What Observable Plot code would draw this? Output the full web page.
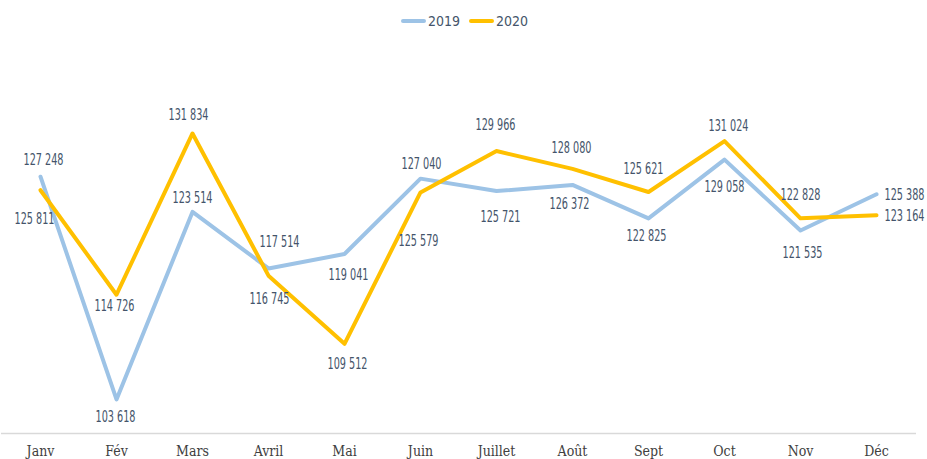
<!DOCTYPE html>
<html><head><meta charset="utf-8">
<script src="https://cdn.jsdelivr.net/npm/d3@7"></script>
<script src="https://cdn.jsdelivr.net/npm/@observablehq/plot@0.6"></script>
<style>
body{margin:0;background:#fff;overflow:hidden;}
#wrap{position:relative;width:927px;height:459px;}
#src{position:absolute;left:10px;top:-12px;font:13px "DejaVu Sans Condensed",sans-serif;color:#333;}
#legend{position:absolute;top:13px;left:401px;font:14px "DejaVu Sans Condensed",sans-serif;color:#44546a;display:flex;align-items:center;}
#legend span.sw{display:inline-block;width:25px;height:4px;border-radius:2px;margin-right:2px;}
#legend span.lb{margin-right:9px;}
</style></head>
<body><div id="wrap"><div id="src">Sources : ESA</div>
<div id="legend"><span class="sw" style="background:#9dc3e6"></span><span class="lb">2019</span><span class="sw" style="background:#ffc000"></span><span class="lb">2020</span></div>
<div id="chart"></div></div>
<script>
const months = ["Janv","Fév","Mars","Avril","Mai","Juin","Juillet","Août","Sept","Oct","Nov","Déc"];
const values2019 = [127248,103618,123514,117514,119041,127040,125721,126372,122825,129058,121535,125388];
const values2020 = [125811,114726,131834,116745,109512,125579,129966,128080,125621,131024,122828,123164];
// label offsets (style only)
const off2019 = [[3,-17],[-1,18],[0,-14],[11,-26],[4,21],[1,-14],[4,26],[-3,19],[-2,18],[0,28],[2,23],[8,1]];
const off2020 = [[-6,29],[-2,11],[-4,-18],[1,24],[3,20],[-2,49],[-1,-26],[-1,-21],[-5,-23],[4,-15],[0,-23],[8,1]];

const fmt = v => d3.format(",")(v).replace(/,/g, " ");
const rows = (vals, off, s) => months.map((m,i)=>({month:m, value:vals[i], dx:off[i][0], dy:off[i][1], anchor: i===11 ? "start" : "middle", s}));
const d19 = rows(values2019, off2019, "2019");
const d20 = rows(values2020, off2020, "2020");
const labelFont = "DejaVu Sans Condensed, sans-serif";

const textMarks = d => d.map(r => Plot.text([r], {x:"month", y:"value", text: r=>fmt(r.value), dx:r.dx, dy:r.dy, textAnchor:r.anchor, fill:"#44546a", fontSize:15, fontFamily:labelFont}));

const chart = Plot.plot({
  width: 927, height: 459,
  marginLeft: 39, marginRight: 51, marginTop: 56, marginBottom: 26,
  x: {type:"point", domain: months, padding: 0, label: null, tickSize: 0, tickPadding: 13},
  y: {domain: [100000, 140000], axis: null},
  style: {fontFamily: "DejaVu Serif Condensed, serif", fontSize: "14px", color: "#404040", background: "#fff"},
  marks: [
    Plot.ruleY([100000], {stroke:"#d9d9d9", strokeWidth:1.5, insetLeft:-38, insetRight:-40}),
    Plot.line(d19, {x:"month", y:"value", stroke:"#9dc3e6", strokeWidth:4, strokeLinejoin:"round"}),
    Plot.line(d20, {x:"month", y:"value", stroke:"#ffc000", strokeWidth:4, strokeLinejoin:"round"}),
    ...textMarks(d19),
    ...textMarks(d20)
  ]
});
// compress label glyphs horizontally to match the narrow face of the reference
chart.querySelectorAll("text").forEach(t => {
  if (/^\d{3} \d{3}$/.test(t.textContent)) { t.setAttribute("textLength", "40"); t.setAttribute("lengthAdjust", "spacingAndGlyphs"); }
});
document.getElementById("chart").appendChild(chart);
</script></body></html>
